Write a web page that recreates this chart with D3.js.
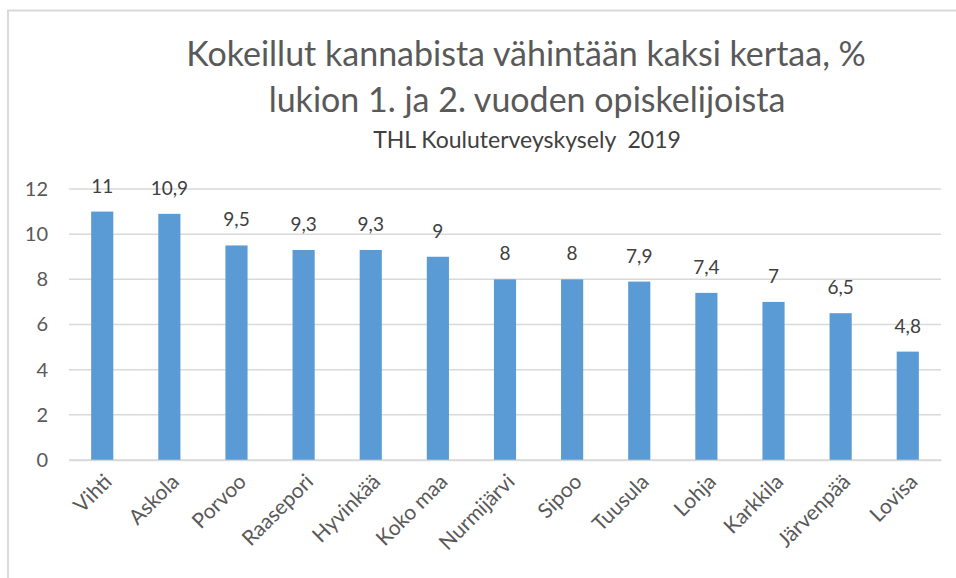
<!DOCTYPE html>
<html>
<head>
<meta charset="utf-8">
<script src="https://cdn.jsdelivr.net/npm/d3@7"></script>
<style>
  body { margin: 0; background: #fff; }
  svg { display: block; font-family: Lato, "Noto Sans", sans-serif; }
</style>
</head>
<body>
<svg width="956" height="578"></svg>
<script>
// Données
let kunnat = ["Vihti", "Askola", "Porvoo", "Raasepori", "Hyvinkää", "Koko maa", "Nurmijärvi",
              "Sipoo", "Tuusula", "Lohja", "Karkkila", "Järvenpää", "Lovisa"];
let arvot = [11, 10.9, 9.5, 9.3, 9.3, 9, 8, 8, 7.9, 7.4, 7, 6.5, 4.8];
let yTicks = [0, 2, 4, 6, 8, 10, 12];

let svg = d3.select("svg");

// Kehys
svg.append("rect")
    .attr("x", 8).attr("y", 10.5)
    .attr("width", 1000).attr("height", 1000)
    .attr("fill", "none")
    .attr("stroke", "#d9d9d9")
    .attr("stroke-width", 2);

// Otsikot
svg.append("text")
    .attr("x", 526).attr("y", 66)
    .attr("text-anchor", "middle")
    .style("font-size", "34px")
    .attr("fill", "#595959")
    .text("Kokeillut kannabista vähintään kaksi kertaa, %");

svg.append("text")
    .attr("x", 527).attr("y", 112)
    .attr("text-anchor", "middle")
    .style("font-size", "34px")
    .attr("fill", "#595959")
    .text("lukion 1. ja 2. vuoden opiskelijoista");

svg.append("text")
    .attr("x", 527).attr("y", 148)
    .attr("text-anchor", "middle")
    .style("font-size", "23px")
    .attr("fill", "#404040")
    .style("white-space", "pre")
    .text("THL Kouluterveyskysely  2019");

// Asteikot
let x = d3.scaleBand()
    .domain(kunnat)
    .range([69, 941])
    .paddingInner(0.67)
    .paddingOuter(0.33);

let y = d3.scaleLinear()
    .domain([0, 12])
    .range([460, 189]);

// Ruudukko
svg.append("g")
    .selectAll("line")
    .data(yTicks)
    .enter()
    .append("line")
    .attr("x1", 69).attr("x2", 941)
    .attr("y1", d => y(d)).attr("y2", d => y(d))
    .attr("stroke", "#d9d9d9")
    .attr("stroke-width", 1.5);

// Y-akseli
let yAxis = svg.append("g")
    .attr("transform", "translate(48,0)")
    .call(d3.axisLeft(y).tickValues(yTicks).tickSize(0).tickPadding(0))
    .attr("font-size", null)
    .attr("font-family", null);
yAxis.select(".domain").remove();
yAxis.selectAll("text")
    .style("font-size", "20px")
    .attr("fill", "#595959");

// Pylväät
svg.append("g")
    .selectAll("rect")
    .data(arvot)
    .enter()
    .append("rect")
    .attr("x", (d, i) => x(kunnat[i]))
    .attr("y", d => y(d))
    .attr("width", x.bandwidth())
    .attr("height", d => y(0) - y(d))
    .attr("fill", "#5b9bd5");

// Arvot
svg.append("g")
    .selectAll("text")
    .data(arvot)
    .enter()
    .append("text")
    .attr("x", (d, i) => x(kunnat[i]) + x.bandwidth() / 2)
    .attr("y", d => y(d) - 19)
    .attr("text-anchor", "middle")
    .style("font-size", "19px")
    .attr("fill", "#404040")
    .text(d => String(d).replace(".", ","));

// X-akseli
let xAxis = svg.append("g")
    .attr("transform", "translate(0,460)")
    .call(d3.axisBottom(x).tickSize(0).tickPadding(0))
    .attr("font-size", null)
    .attr("font-family", null);
xAxis.select(".domain").attr("stroke", "#d9d9d9").attr("stroke-width", 1.5);
xAxis.selectAll("text")
    .style("font-size", "21px")
    .attr("fill", "#595959")
    .attr("text-anchor", "end")
    .attr("dy", null)
    .attr("y", 0)
    .attr("transform", "translate(11,23) rotate(-45)");
</script>
</body>
</html>
